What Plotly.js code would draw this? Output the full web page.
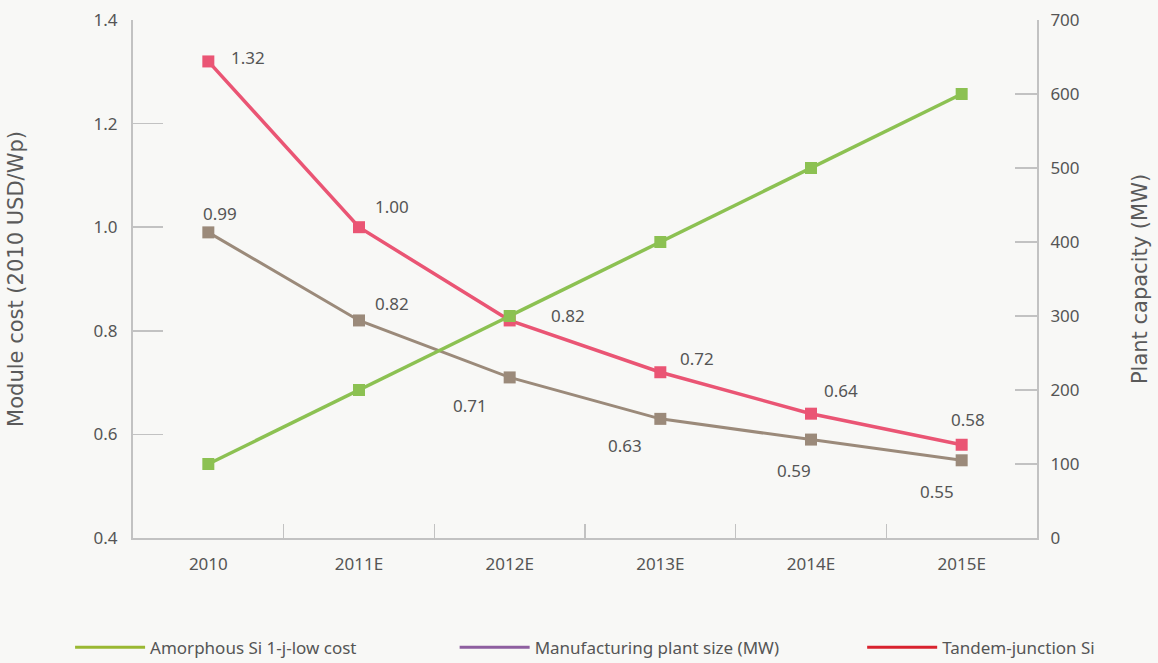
<!DOCTYPE html>
<html>
<head>
<meta charset="utf-8">
<script src="https://cdn.plot.ly/plotly-3.0.1.min.js"></script>
<style>
  html, body { margin: 0; padding: 0; background: #f8f8f6; }
  #chart { width: 1158px; height: 663px; }
</style>
</head>
<body>
<div id="chart"></div>
<script>
// ---- data ----
const categories = ["2010", "2011E", "2012E", "2013E", "2014E", "2015E"];
const tandemCost = [1.32, 1.00, 0.82, 0.72, 0.64, 0.58];
const amorphousCost = [0.99, 0.82, 0.71, 0.63, 0.59, 0.55];
const plantCapacity = [100, 200, 300, 400, 500, 600];
const legendNames = ["Amorphous Si 1-j-low cost", "Manufacturing plant size (MW)", "Tandem-junction Si"];
const leftTicks = [0.4, 0.6, 0.8, 1.0, 1.2, 1.4];
const rightTicks = [0, 100, 200, 300, 400, 500, 600, 700];

// label offsets (pixels) for value labels
const tandemShift = [[40, 4], [33, 21], [58, 5], [37, 14], [30, 23], [6, 25]];
const amorphousShift = [[12, 19], [33, 17], [-40, -28], [-35, -27], [-17, -31], [-25, -31]];

const FONT = "Noto Sans, Open Sans, sans-serif";
const TFONT = "DejaVu Sans, Noto Sans, sans-serif";
const TXT = "#555555";
const AXC = "#c2c2c2";

const traces = [
  {
    x: categories, y: amorphousCost, type: "scatter", mode: "lines+markers",
    line: {color: "#9b8a7a", width: 3}, marker: {symbol: "square", size: 12, color: "#9b8a7a"},
    showlegend: false, hoverinfo: "x+y"
  },
  {
    x: categories, y: tandemCost, type: "scatter", mode: "lines+markers",
    line: {color: "#ea5574", width: 3.5}, marker: {symbol: "square", size: 12, color: "#ea5574"},
    showlegend: false, hoverinfo: "x+y"
  },
  {
    x: categories, y: plantCapacity, type: "scatter", mode: "lines+markers", yaxis: "y2",
    line: {color: "#8cc152", width: 3.5}, marker: {symbol: "square", size: 12, color: "#8cc152"},
    showlegend: false, hoverinfo: "x+y"
  },
  // legend entries
  {x: [null], y: [null], type: "scatter", mode: "lines", name: legendNames[0], legend: "legend",
   line: {color: "#9ab832", width: 3}},
  {x: [null], y: [null], type: "scatter", mode: "lines", name: legendNames[1], legend: "legend2",
   line: {color: "#8e5fa0", width: 3}},
  {x: [null], y: [null], type: "scatter", mode: "lines", name: legendNames[2], legend: "legend3",
   line: {color: "#d9232e", width: 3}}
];

const annotations = [];
categories.forEach((c, i) => {
  annotations.push({
    x: i, y: tandemCost[i], xref: "x", yref: "y", text: tandemCost[i].toFixed(2),
    showarrow: false, xshift: tandemShift[i][0], yshift: tandemShift[i][1],
    font: {family: FONT, size: 17, color: TXT}
  });
  annotations.push({
    x: i, y: amorphousCost[i], xref: "x", yref: "y", text: amorphousCost[i].toFixed(2),
    showarrow: false, xshift: amorphousShift[i][0], yshift: amorphousShift[i][1],
    font: {family: FONT, size: 17, color: TXT}
  });
});

function legendAt(x) {
  return {
    orientation: "h", x: x, xanchor: "left", y: -0.212, yanchor: "middle",
    itemwidth: 70, font: {family: FONT, size: 17, color: TXT}, bgcolor: "rgba(0,0,0,0)"
  };
}

const layout = {
  width: 1158, height: 663,
  paper_bgcolor: "#f8f8f6", plot_bgcolor: "#f8f8f6",
  margin: {l: 133, r: 121, t: 20, b: 125, autoexpand: false},
  font: {family: FONT, color: TXT, size: 16},
  xaxis: {
    type: "category", range: [-0.5, 5.5], tickson: "boundaries",
    ticks: "inside", ticklen: 14, tickcolor: AXC, tickwidth: 1.5,
    showline: true, linecolor: AXC, linewidth: 2, showgrid: false, zeroline: false,
    tickfont: {family: FONT, size: 17, color: TXT}, ticklabelstandoff: 10,
    automargin: false
  },
  yaxis: {
    range: [0.4, 1.4], tickvals: leftTicks, tickformat: ".1f",
    ticks: "inside", ticklen: 30, tickcolor: AXC, tickwidth: 1.5,
    showline: true, linecolor: AXC, linewidth: 2, showgrid: false, zeroline: false,
    tickfont: {family: FONT, size: 17, color: TXT}, ticklabelstandoff: 10,
    title: {text: "Module cost (2010 USD/Wp)", font: {family: TFONT, size: 21, color: "#5a5a5a"}, standoff: 64},
    automargin: false
  },
  yaxis2: {
    range: [0, 700], tickvals: rightTicks, overlaying: "y", side: "right",
    ticks: "inside", ticklen: 22, tickcolor: AXC, tickwidth: 1.5,
    showline: true, linecolor: AXC, linewidth: 2, showgrid: false, zeroline: false,
    tickfont: {family: FONT, size: 17, color: TXT}, ticklabelstandoff: 8,
    title: {text: "Plant capacity (MW)", font: {family: TFONT, size: 21, color: "#5a5a5a"}, standoff: 54},
    automargin: false
  },
  legend: legendAt(-0.0696),
  legend2: legendAt(0.3558),
  legend3: legendAt(0.8066),
  annotations: annotations,
  showlegend: true
};

Plotly.newPlot("chart", traces, layout, {displayModeBar: false, staticPlot: true});
</script>
</body>
</html>
